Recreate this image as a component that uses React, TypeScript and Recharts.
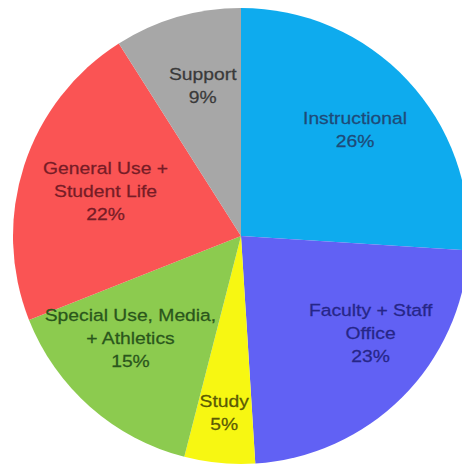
import React from "react";
import { PieChart, Pie, Cell } from "recharts";

const categories = [
  "Instructional",
  "Faculty + Staff Office",
  "Study",
  "Special Use, Media, + Athletics",
  "General Use + Student Life",
  "Support",
];
const labelLines = [
  ["Instructional"],
  ["Faculty + Staff", "Office"],
  ["Study"],
  ["Special Use, Media,", "+ Athletics"],
  ["General Use +", "Student Life"],
  ["Support"],
];
const shares = [26, 23, 5, 15, 22, 9];

const sliceColors = ["#0EABEE", "#6161F4", "#F7F712", "#8CCB4F", "#FA5454", "#A7A7A7"];
const textColors = ["#1E4A78", "#262688", "#5A5A05", "#2A561C", "#761C26", "#3A3A3A"];
// small manual nudges of the label placement (layout only)
const labelNudge = [
  [1, 0],
  [20, -12],
  [0, 0],
  [-8, -14],
  [12, 3],
  [5, -1],
];

const data = categories.map((name, i) => ({
  name,
  lines: labelLines[i],
  value: shares[i],
}));

const RAD = Math.PI / 180;

const renderLabel = (props: any) => {
  const { cx, cy, midAngle, outerRadius, index, percent } = props;
  const factor = percent < 0.07 ? 0.78 : 0.68;
  const r = outerRadius * factor;
  const x = cx + r * Math.cos(-midAngle * RAD) + labelNudge[index][0];
  const y = cy + r * Math.sin(-midAngle * RAD) + labelNudge[index][1];
  const lines = [...data[index].lines, `${data[index].value}%`];
  const lh = 23;
  const y0 = y - ((lines.length - 1) * lh) / 2;
  const sx = 1.17;
  return (
    <text
      x={x}
      y={y0}
      textAnchor="middle"
      dominantBaseline="central"
      fill={textColors[index]}
      stroke={textColors[index]}
      strokeWidth={0.25}
      fontSize={16.5}
      fontFamily="'Liberation Sans', Arial, sans-serif"
      transform={`translate(${x} 0) scale(${sx} 1) translate(${-x} 0)`}
    >
      {lines.map((t, k) => (
        <tspan key={k} x={x} y={y0 + k * lh} dominantBaseline="central">
          {t}
        </tspan>
      ))}
    </text>
  );
};

export default function App() {
  return (
    <div style={{ position: "absolute", left: 0, top: 0, width: 462, height: 466, background: "#fff" }}>
      <PieChart width={462} height={466} margin={{ top: 0, right: 0, bottom: 0, left: 0 }}>
        <Pie
          data={data}
          dataKey="value"
          nameKey="name"
          cx={241}
          cy={236}
          outerRadius={228}
          startAngle={90}
          endAngle={-270}
          stroke="none"
          label={renderLabel}
          labelLine={false}
          isAnimationActive={false}
        >
          {data.map((d, i) => (
            <Cell key={d.name} fill={sliceColors[i]} />
          ))}
        </Pie>
      </PieChart>
    </div>
  );
}
